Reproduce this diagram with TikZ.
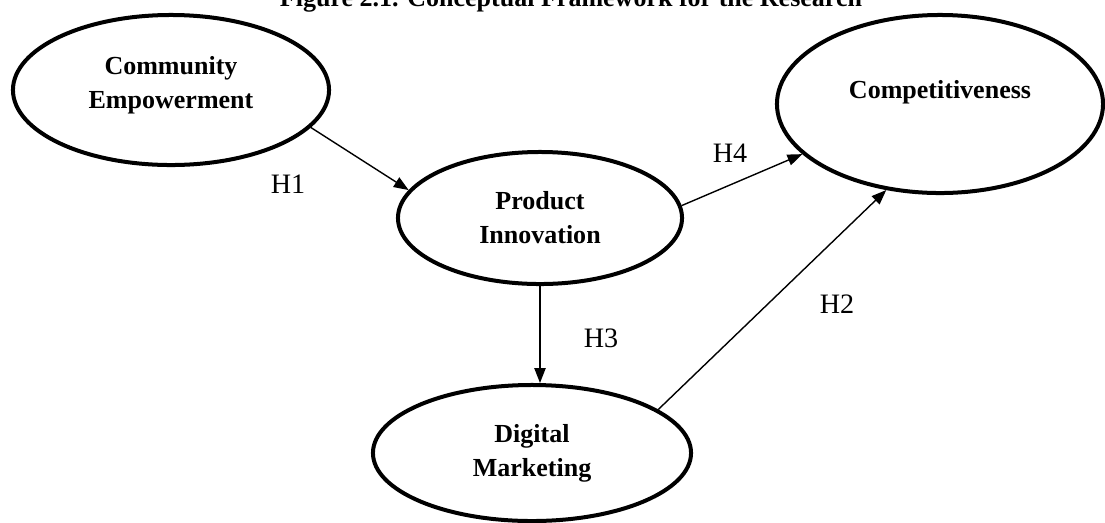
\documentclass[tikz,border=0pt]{standalone}
\usepackage{fontspec}
\setmainfont{Liberation Serif}
\usetikzlibrary{shapes.geometric,arrows.meta}
\begin{document}
\begin{tikzpicture}[
	x=0.025cm, y=-0.025cm,
	var/.style={draw, ellipse, line width=0.1cm, align=center, inner sep=0pt,
		font=\fontsize{18.5}{24.2}\selectfont\bfseries},
	path/.style={-{Triangle[length=0.37cm,width=0.28cm]}, line width=0.035cm},
	hyp/.style={anchor=base, font=\fontsize{20}{24}\selectfont}
]
\useasboundingbox (0,0) rectangle (1105,522);
\node[anchor=base, font=\fontsize{18.5}{24.2}\selectfont\bfseries] (title) at (571,6) {Figure 2.1. Conceptual Framework for the Research};
\node[var, minimum width=7.9cm, minimum height=3.75cm, text depth=0.4cm] (ce) at (171,90) {Community\\Empowerment};
\node[var, minimum width=7.1cm, minimum height=3.3cm] (pi) at (540,218) {Product\\Innovation};
\node[var, minimum width=8.15cm, minimum height=4.45cm, text depth=0.75cm] (comp) at (940,104) {Competitiveness};
\node[var, minimum width=7.95cm, minimum height=3.4cm] (dm) at (532,453) {Digital\\Marketing};
\draw[path] (ce.-15) -- (pi.168);
\draw[path] (pi.5.6) -- (comp.200);
\draw[path] (pi.south) -- (pi.south |- dm.north);
\draw[path] (dm.19.4) -- (comp.238.3);
\node[hyp] (h1) at (288,193) {H1};
\node[hyp] (h4) at (730,162) {H4};
\node[hyp] (h3) at (601,347) {H3};
\node[hyp] (h2) at (837,313) {H2};
\end{tikzpicture}
\end{document}
